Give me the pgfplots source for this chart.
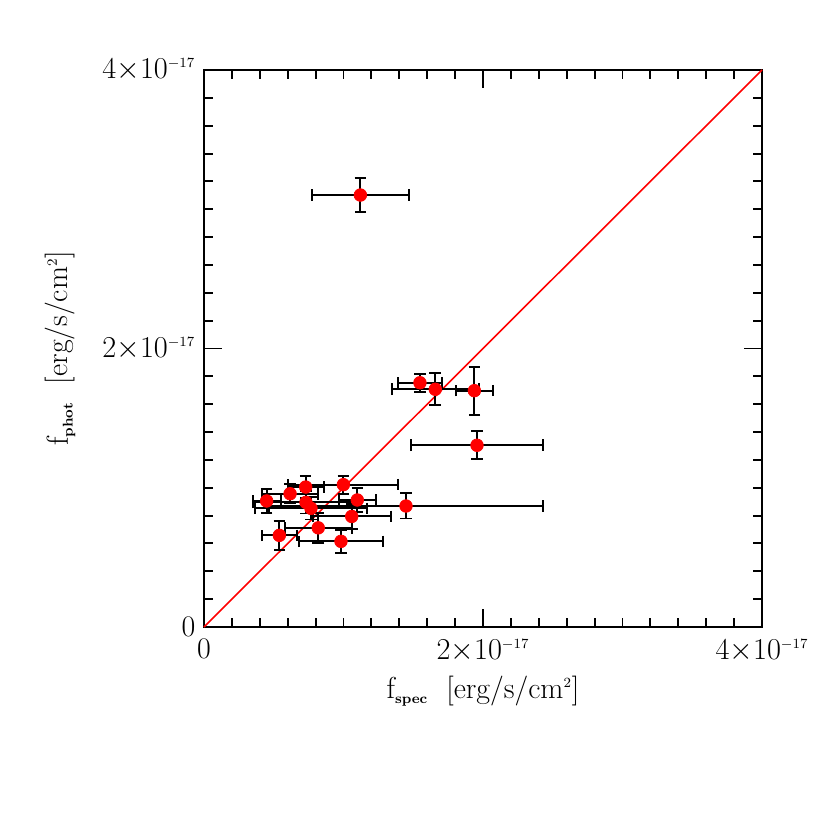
\documentclass[border=0pt]{standalone}
\usepackage{pgfplots}
\pgfplotsset{compat=1.18}

% flux values in units of 1e-17 erg/s/cm^2
\pgfplotstableread{
x      y      ex     ey
1.121  3.102  0.349  0.122
1.548  1.754  0.155  0.066
1.658  1.707  0.313  0.115
1.938  1.697  0.131  0.173
1.957  1.305  0.470  0.100
1.448  0.869  0.984  0.090
0.449  0.905  0.100  0.086
0.617  0.957  0.200  0.070
0.729  1.005  0.130  0.079
0.999  1.022  0.394  0.065
1.099  0.912  0.131  0.084
0.731  0.895  0.380  0.080
0.767  0.852  0.400  0.080
1.059  0.794  0.280  0.090
0.819  0.712  0.240  0.108
0.540  0.658  0.127  0.105
0.982  0.615  0.300  0.081
}\fluxdata

\begin{document}
\begin{tikzpicture}
\begin{axis}[
  name=ax,
  at={(0,0)}, anchor=south west,
  scale only axis,
  width=11.16cm, height=11.14cm,
  xmin=0, xmax=4, ymin=0, ymax=4,
  xtick={0,2,4}, ytick={0,2,4},
  xticklabels={0,$2{\times}10^{\scriptscriptstyle -17}$,$4{\times}10^{\scriptscriptstyle -17}$},
  yticklabels={0,$2{\times}10^{\scriptscriptstyle -17}$,$4{\times}10^{\scriptscriptstyle -17}$},
  minor x tick num=9, minor y tick num=9,
  tick align=inside,
  major tick length=0.36cm, minor tick length=0.18cm,
  axis line style={line width=1.3pt},
  every tick/.style={black, line width=1.1pt},
  tick label style={font=\fontsize{17}{19}\selectfont},
  xticklabel style={yshift=-0.12cm},
  yticklabel style={xshift=-0.05cm},
  xlabel={$\mathrm{f}_{\scriptscriptstyle\mathbf{spec}}$~~[erg/s/cm$^{\scriptscriptstyle 2}$]},
  ylabel={$\mathrm{f}_{\scriptscriptstyle\mathbf{phot}}$~~[erg/s/cm$^{\scriptscriptstyle 2}$]},
  label style={font=\fontsize{17}{19}\selectfont},
  xlabel style={yshift=-0.05cm},
  ylabel style={yshift=0.3cm},
  clip=false,
]
\addplot[red, line width=0.9pt] coordinates {(0,0) (4,4)};
\addplot[
  only marks,
  mark=*,
  mark size=3.6pt,
  mark options={fill=red, draw=red},
  error bars/.cd,
  x dir=both, x explicit,
  y dir=both, y explicit,
  error bar style={black, line width=1.1pt},
  error mark options={rotate=90, black, line width=1.1pt, mark size=3.3pt},
] table[x=x, y=y, x error=ex, y error=ey] {\fluxdata};
\end{axis}
\path (-4.08,-4.06) rectangle (12.52,12.54);
\end{tikzpicture}
\end{document}
